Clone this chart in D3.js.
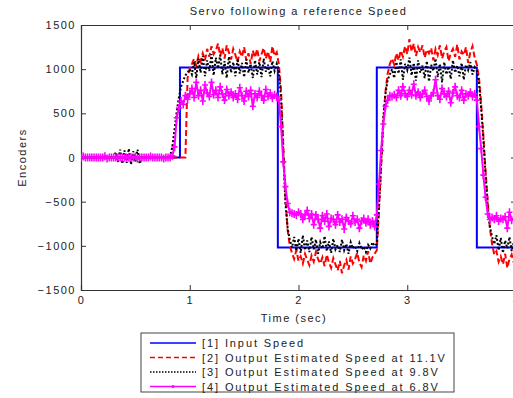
<!DOCTYPE html>
<html>
<head>
<meta charset="utf-8">
<script src="https://cdn.jsdelivr.net/npm/d3@7"></script>
<style>
  html, body { margin: 0; padding: 0; background: #fff; overflow: hidden; }
  text { font-family: "Liberation Sans", Arial, sans-serif; fill: #222; letter-spacing: 1.5px; }
</style>
</head>
<body>
<div id="chart"></div>
<script>
const dt = 0.02;

// [1] input speed, change points
const inputTime  = [0, 0.91, 0.91, 1.81, 1.81, 2.72, 2.72, 3.64, 3.64, 4.0];
const inputSpeed = [0, 0, 1020, 1020, -1020, -1020, 1020, 1020, -1020, -1020];

// [2] 11.1 V
const speed111 = [
  0,0,0,0,0,0,0,0,0,0, 0,0,0,0,0,0,0,0,0,0, 0,0,0,0,0,0,0,0,0,0,
  0,0,0,0,0,0,0,0,0,0, 0,0,0,0,0,0,0,0,0, 900, 1010,
  1060, 1120, 1040, 1150, 1090, 1180, 1100, 1230, 1140, 1260,
  1170, 1210, 1290, 1150, 1240, 1120, 1270, 1190, 1110, 1230,
  1160, 1080, 1200, 1140, 1250, 1100, 1180, 1060, 1210, 1130,
  1230, 1090, 1170, 1240, 1120, 1200, 1080, 1260, 1150, 1190,
  1050, 750, 150, -450, -820, -1000,
  -1080, -1150, -1050, -1170, -1120, -1200, -1090, -1160, -1220, -1110,
  -1180, -1070, -1150, -1200, -1130, -1230, -1100, -1190, -1250, -1140,
  -1210, -1280, -1170, -1310, -1220, -1160, -1270, -1120, -1200, -1150,
  -1080, -1190, -1240, -1110, -1170, -1060, -1200, -1130, -1090,
  -1050, -600, -100, 400, 750, 950, 1060,
  1120, 1050, 1180, 1100, 1210, 1140, 1260, 1170, 1340, 1200,
  1290, 1150, 1250, 1190, 1270, 1130, 1220, 1180, 1240, 1100,
  1230, 1160, 1270, 1120, 1200, 1250, 1090, 1180, 1230, 1140,
  1280, 1110, 1200, 1160, 1250, 1070, 1190, 1260, 1130,
  1050, 900, 600, 250, -150, -500, -800, -980,
  -1100, -1060, -1180, -1120, -1210, -1090, -1250, -1150, -1100, -1190
];

// [3] 9.8 V
const speed98 = [
  0,0,0,0,0,0,0,0,0,0, 0,0,0,
  0,0,0, 60, -50, 90, -70, 80, -60, 100, -80, 70, -50, 90, -70, 0,
  0,0,0,0,0,0,0,0,0,0,0,0,
  20, 120, 320, 520, 680, 800, 870, 930, 960, 1000,
  940, 1080, 900, 1120, 960, 1150, 920, 1100, 980, 1170,
  930, 1130, 1010, 1160, 940, 1090, 900, 1140, 960, 1080,
  920, 1120, 950, 1070, 910, 1110, 960, 1060, 900, 1100,
  940, 1080, 910, 1120, 970, 1050, 920, 1090, 980, 1060,
  980, 650, 50, -520, -800, -930,
  -1020, -900, -1060, -920, -1080, -880, -1050, -940, -1070, -900,
  -1040, -930, -1090, -960, -1030, -890, -1060, -950, -1080, -920,
  -1040, -990, -1070, -930, -1050, -980, -1090, -960, -1030, -1000,
  -1060, -970, -1040, -1010, -1070, -990, -1030, -960, -1000,
  -980, -550, -50, 450, 720, 880, 940,
  1000, 900, 1080, 950, 1110, 880, 1060, 990, 1130, 930,
  1070, 870, 1100, 960, 1040, 900, 1090, 860, 1050, 980,
  1120, 910, 1060, 850, 1080, 940, 1030, 890, 1100, 960,
  1040, 920, 1070, 880, 1050, 990, 1080, 940, 1020,
  980, 850, 550, 200, -200, -550, -780, -900,
  -980, -880, -1050, -910, -1080, -940, -1030, -900, -1060, -960
];

// [4] 6.8 V
const speed68 = [
  0, 10, 0, 0, 0, 0, 0, 0, 0, 0, 0, 15, -10, 0, 0, 0, 0, 0, 0, 0,
  0, 0, 0, 0, 0, 10, -15, 0, 0, 0, 0, 0, 10, 0, 0, 0, 0, 0, -10, 0,
  0, 0,
  20, 120, 450, 560, 640, 600, 700, 660, 720,
  780, 680, 850, 700, 760, 640, 820, 730, 690, 850,
  710, 760, 680, 800, 720, 650, 770, 700, 740, 680,
  720, 660, 790, 700, 640, 750, 690, 760, 580, 720,
  680, 750, 700, 650, 770, 690, 730, 670, 710, 690,
  650, 350, -50, -330, -520, -620,
  -630, -640, -650, -620, -640, -700, -650, -600, -690, -640,
  -760, -650, -700, -800, -660, -720, -640, -780, -690, -700,
  -760, -650, -730, -700, -810, -680, -720, -750, -660, -730,
  -700, -800, -720, -690, -740, -700, -760, -720, -780,
  -650, -300, 80, 380, 580, 650, 700,
  690, 710, 680, 760, 700, 800, 720, 690, 760, 710,
  830, 700, 740, 680, 720, 760, 690, 640, 700, 730,
  880, 700, 660, 780, 720, 690, 750, 620, 730, 800,
  700, 680, 760, 650, 720, 700, 740, 690, 720,
  650, 350, 100, -200, -450, -640, -700,
  -680, -700, -660, -720, -690, -700, -670, -800, -620, -710, -690
];

const xTicks = [0, 1, 2, 3, 4];
const yTicks = [-1500, -1000, -500, 0, 500, 1000, 1500];
const legendLabels = [
  "[1] Input Speed",
  "[2] Output Estimated Speed at 11.1V",
  "[3] Output Estimated Speed at 9.8V",
  "[4] Output Estimated Speed at 6.8V"
];

// ---- layout ----
const W = 530, H = 398;
const plot = { left: 81, top: 25, right: 516, bottom: 290 };

const svg = d3.select("#chart").append("svg")
  .attr("width", W).attr("height", H);

const x = d3.scaleLinear().domain([0, 4]).range([plot.left, plot.right]);
const y = d3.scaleLinear().domain([-1500, 1500]).range([plot.bottom, plot.top]);

svg.append("defs").append("clipPath").attr("id", "clip")
  .append("rect")
  .attr("x", plot.left).attr("y", plot.top)
  .attr("width", plot.right - plot.left).attr("height", plot.bottom - plot.top);

// axes: ticks point inward, box drawn around plot
const tickLen = 5;
svg.append("g").attr("transform", `translate(0,${plot.bottom})`)
  .call(d3.axisBottom(x).tickValues(xTicks).tickSize(-tickLen).tickPadding(6).tickFormat(d3.format("d")));
svg.append("g").attr("transform", `translate(0,${plot.top})`)
  .call(d3.axisTop(x).tickValues(xTicks).tickSize(-tickLen).tickFormat(""));
svg.append("g").attr("transform", `translate(${plot.left},0)`)
  .call(d3.axisLeft(y).tickValues(yTicks).tickSize(-tickLen).tickPadding(5).tickFormat(d3.format("d")));
svg.append("g").attr("transform", `translate(${plot.right},0)`)
  .call(d3.axisRight(y).tickValues(yTicks).tickSize(-tickLen).tickFormat(""));

svg.selectAll(".domain").attr("stroke", "#333").attr("stroke-width", 1.2);
svg.selectAll(".tick line").attr("stroke", "#333");
svg.selectAll(".tick text").style("font-size", "11px").attr("fill", "#222");

// labels
svg.append("text")
  .attr("x", (plot.left + plot.right) / 2).attr("y", 15)
  .attr("text-anchor", "middle").style("font-size", "11px")
  .text("Servo following a reference Speed");

svg.append("text")
  .attr("x", 294).attr("y", 322)
  .attr("text-anchor", "middle").style("font-size", "11px")
  .text("Time (sec)");

svg.append("text")
  .attr("transform", `translate(26,${(plot.top + plot.bottom) / 2}) rotate(-90)`)
  .attr("text-anchor", "middle").style("font-size", "11px")
  .text("Encoders");

// ---- series ----
const g = svg.append("g").attr("clip-path", "url(#clip)");
const line = d3.line().x(d => x(d[0])).y(d => y(d[1]));
const toPts = arr => arr.map((v, i) => [i * dt, v]);

const inputPts = inputTime.map((t, i) => [t, inputSpeed[i]]);
const series = [
  { pts: inputPts, color: "#0000ff", dash: null },
  { pts: toPts(speed111), color: "#ff0000", dash: "6,3" },
  { pts: toPts(speed98), color: "#000000", dash: "2,2" },
  { pts: toPts(speed68), color: "#ff00ff", dash: null, marker: true }
];

series.forEach(s => {
  g.append("path")
    .attr("d", line(s.pts))
    .attr("fill", "none")
    .attr("stroke", s.color)
    .attr("stroke-width", 2)
    .attr("stroke-dasharray", s.dash);
  if (s.marker) {
    g.selectAll(null).data(s.pts).enter().append("path")
      .attr("transform", d => `translate(${x(d[0])},${y(d[1])})`)
      .attr("d", "M-3,0H3M0,-4V4")
      .attr("stroke", s.color).attr("stroke-width", 1.6);
  }
});

// ---- legend ----
const lg = svg.append("g").attr("transform", "translate(141,333)");
lg.append("rect").attr("width", 313).attr("height", 59)
  .attr("fill", "#fff").attr("stroke", "#444").attr("stroke-width", 1);

series.forEach((s, i) => {
  const yy = 10 + i * 14.5;
  lg.append("line")
    .attr("x1", 9).attr("x2", 55).attr("y1", yy).attr("y2", yy)
    .attr("stroke", s.color).attr("stroke-width", 1.5)
    .attr("stroke-dasharray", s.dash ? (s.dash === "2,2" ? "1.5,1.5" : "5,3") : null);
  if (s.marker) {
    lg.append("circle").attr("cx", 32).attr("cy", yy).attr("r", 1.5).attr("fill", s.color);
  }
  lg.append("text").attr("x", 61).attr("y", yy + 4)
    .style("font-size", "11px").style("letter-spacing", "1.9px").text(legendLabels[i]);
});
</script>
</body>
</html>
